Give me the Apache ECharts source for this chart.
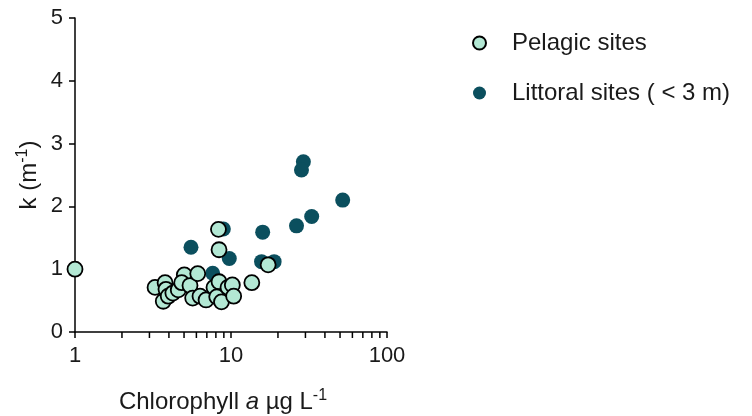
<!DOCTYPE html>
<html>
<head>
<meta charset="utf-8">
<script src="https://cdn.jsdelivr.net/npm/echarts@6/dist/echarts.min.js"></script>
<style>html,body{margin:0;padding:0;background:#fff}#c{width:752px;height:416px}</style>
</head>
<body>
<div id="c"></div>
<script>
// Data (chlorophyll a µg/L, k m^-1)
var pelagicChl = [1.0, 3.26, 3.78, 3.83, 3.68, 3.96, 4.24, 4.59, 5.02, 4.83, 5.46, 6.12, 5.68, 6.33, 6.92, 7.78, 8.38, 8.10, 8.69, 9.57, 10.2, 10.4, 13.6, 8.31, 8.38, 17.3];
var pelagicK   = [1.00, 0.71, 0.785, 0.68, 0.49, 0.57, 0.62, 0.67, 0.91, 0.785, 0.74, 0.93, 0.54, 0.57, 0.51, 0.71, 0.80, 0.56, 0.48, 0.71, 0.75, 0.57, 0.785, 1.635, 1.31, 1.07];
var littoralChl = [5.54, 8.93, 9.75, 7.63, 15.96, 15.7, 18.9, 26.3, 29.1, 28.3, 32.9, 52.0];
var littoralK   = [1.35, 1.64, 1.17, 0.935, 1.59, 1.12, 1.12, 1.69, 2.71, 2.58, 1.84, 2.10];
var seriesNames = ['Pelagic sites', 'Littoral sites ( < 3 m)'];
var yTicks = [0, 1, 2, 3, 4, 5];
var xMinorTicks = [2, 3, 4, 5, 6, 7, 8, 9, 20, 30, 40, 50, 60, 70, 80, 90];

function zip(a, b) { return a.map(function (v, i) { return [v, b[i]]; }); }

var FONT = 'Arial, "Liberation Sans", Helvetica, sans-serif';
var TXT = '#1a1a1a';
var chart = echarts.init(document.getElementById('c'), null, { renderer: 'canvas' });
var option = {
  animation: false,
  textStyle: { fontFamily: FONT },
  grid: { left: 75, right: 365, top: 18, bottom: 84, containLabel: false, outerBoundsMode: 'none' },
  legend: {
    data: seriesNames,
    orient: 'vertical',
    left: 467,
    top: 25,
    itemGap: 24,
    itemWidth: 13,
    itemHeight: 13,
    icon: 'circle',
    textStyle: { fontFamily: FONT, fontSize: 24, color: TXT, lineHeight: 26, padding: [0, 0, 0, 21] }
  },
  xAxis: {
    type: 'log',
    logBase: 10,
    min: 1,
    max: 100,
    name: 'Chlorophyll {i|a} µg L{sup|-1}',
    nameLocation: 'middle',
    nameGap: 56,
    nameTextStyle: {
      fontFamily: FONT, fontSize: 24, color: TXT, padding: [0, 16, 0, 0],
      rich: {
        i: { fontFamily: FONT, fontSize: 24, fontStyle: 'italic', color: TXT },
        sup: { fontFamily: FONT, fontSize: 16, color: TXT, verticalAlign: 'bottom', padding: [0, 0, 12, 0] }
      }
    },
    axisLine: { show: true, onZero: false, lineStyle: { color: '#000', width: 1.5 } },
    axisTick: { show: true, inside: false, length: 6, lineStyle: { color: '#000', width: 1.5 } },
    axisLabel: { fontFamily: FONT, fontSize: 22, color: TXT, margin: 13 },
    splitLine: { show: false }
  },
  yAxis: {
    type: 'value',
    min: 0,
    max: 5,
    interval: 1,
    name: 'k (m{sup|-1})',
    nameLocation: 'middle',
    nameGap: 32,
    nameRotate: 90,
    nameTextStyle: {
      fontFamily: FONT, fontSize: 24, color: TXT,
      rich: {
        sup: { fontFamily: FONT, fontSize: 16, color: TXT, verticalAlign: 'bottom', padding: [0, 0, 12, 0] }
      }
    },
    axisLine: { show: true, lineStyle: { color: '#000', width: 1.5 } },
    axisTick: { show: true, inside: false, length: 6, lineStyle: { color: '#000', width: 1.5 } },
    axisLabel: { fontFamily: FONT, fontSize: 22, color: TXT, margin: 12 },
    splitLine: { show: false }
  },
  series: [
    {
      name: seriesNames[1],
      type: 'scatter',
      symbol: 'circle',
      symbolSize: 15,
      z: 2,
      itemStyle: { color: '#0b4f5e', opacity: 1 },
      data: zip(littoralChl, littoralK)
    },
    {
      name: seriesNames[0],
      type: 'scatter',
      symbol: 'circle',
      symbolSize: 15,
      z: 3,
      itemStyle: { color: '#b3e8d4', borderColor: '#000', borderWidth: 1.8, opacity: 1 },
      data: zip(pelagicChl, pelagicK)
    }
  ]
};
chart.setOption(option);

// minor ticks on log axis positioned through the axis scale
var y0 = chart.convertToPixel({ yAxisIndex: 0 }, 0);
var g = xMinorTicks.map(function (v) {
  var x = chart.convertToPixel({ xAxisIndex: 0 }, v);
  return {
    type: 'line',
    shape: { x1: x, y1: y0, x2: x, y2: y0 + 6 },
    style: { stroke: '#000', lineWidth: 1.5 },
    z: 10
  };
});
chart.setOption({ graphic: g });
</script>
</body>
</html>
